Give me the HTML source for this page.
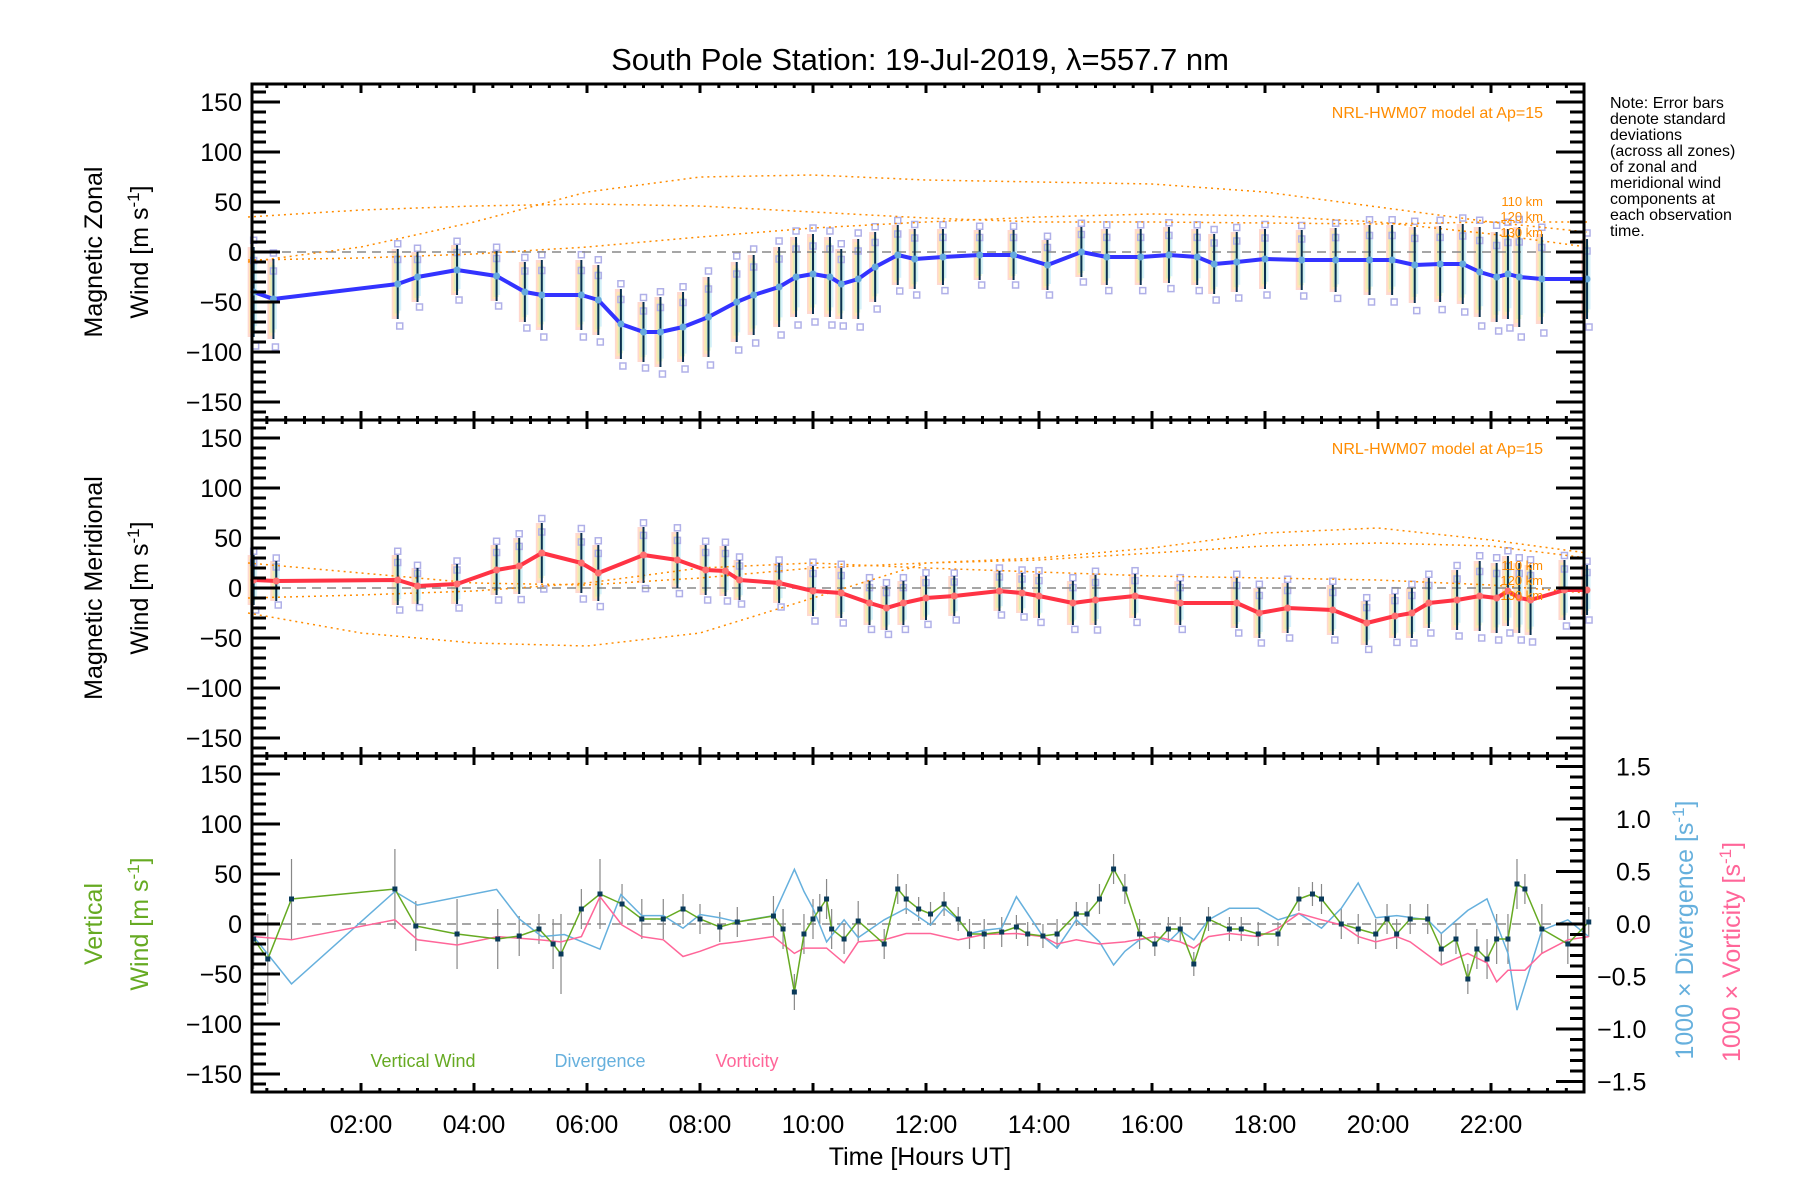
<!DOCTYPE html>
<html><head><meta charset="utf-8">
<style>
html,body{margin:0;padding:0;background:#fff;}
svg{display:block;font-family:"Liberation Sans",sans-serif;}
</style></head>
<body>
<svg id="chart" width="1800" height="1200" viewBox="0 0 1800 1200">
<rect width="1800" height="1200" fill="#fff"/>
<text x="920" y="70" font-size="31" text-anchor="middle">South Pole Station: 19-Jul-2019, λ=557.7 nm</text>
<g id="layer-bg"></g>
<g id="layer-data"></g>
<g id="layer-axes"></g>
<g id="layer-text" font-size="25">
<text transform="translate(102,252) rotate(-90)" text-anchor="middle" font-size="25">Magnetic Zonal</text>
<text transform="translate(148,252) rotate(-90)" text-anchor="middle" font-size="25">Wind [m s<tspan dy="-9" font-size="17">-1</tspan><tspan dy="9">]</tspan></text>
<text transform="translate(102,588) rotate(-90)" text-anchor="middle" font-size="25">Magnetic Meridional</text>
<text transform="translate(148,588) rotate(-90)" text-anchor="middle" font-size="25">Wind [m s<tspan dy="-9" font-size="17">-1</tspan><tspan dy="9">]</tspan></text>
<text transform="translate(102,924) rotate(-90)" text-anchor="middle" font-size="25" fill="#66aa22">Vertical</text>
<text transform="translate(148,924) rotate(-90)" text-anchor="middle" font-size="25" fill="#66aa22">Wind [m s<tspan dy="-9" font-size="17">-1</tspan><tspan dy="9">]</tspan></text>
<text transform="translate(1693,930) rotate(-90)" text-anchor="middle" font-size="25" fill="#66b0dd">1000 × Divergence [s<tspan dy="-9" font-size="17">-1</tspan><tspan dy="9">]</tspan></text>
<text transform="translate(1740,952) rotate(-90)" text-anchor="middle" font-size="25" fill="#ff6699">1000 × Vorticity [s<tspan dy="-9" font-size="17">-1</tspan><tspan dy="9">]</tspan></text>
<text x="920" y="1165" text-anchor="middle" font-size="25">Time [Hours UT]</text>
<text x="1543" y="118" text-anchor="end" font-size="16" fill="#ff8c00">NRL-HWM07 model at Ap=15</text>
<text x="1543" y="454" text-anchor="end" font-size="16" fill="#ff8c00">NRL-HWM07 model at Ap=15</text>
<text x="1543" y="206" text-anchor="end" font-size="13" fill="#ff8c00">110 km</text>
<text x="1543" y="221" text-anchor="end" font-size="13" fill="#ff8c00">120 km</text>
<text x="1543" y="237" text-anchor="end" font-size="13" fill="#ff8c00">130 km</text>
<text x="1543" y="570" text-anchor="end" font-size="13" fill="#ff8c00">110 km</text>
<text x="1543" y="585" text-anchor="end" font-size="13" fill="#ff8c00">120 km</text>
<text x="1543" y="600" text-anchor="end" font-size="13" fill="#ff8c00">130 km</text>
<g font-size="16">
<text x="1610" y="108">Note: Error bars</text>
<text x="1610" y="124">denote standard</text>
<text x="1610" y="140">deviations</text>
<text x="1610" y="156">(across all zones)</text>
<text x="1610" y="172">of zonal and</text>
<text x="1610" y="188">meridional wind</text>
<text x="1610" y="204">components at</text>
<text x="1610" y="220">each observation</text>
<text x="1610" y="236">time.</text>
</g>
<text x="423" y="1067" text-anchor="middle" font-size="18" fill="#66aa22">Vertical Wind</text>
<text x="600" y="1067" text-anchor="middle" font-size="18" fill="#66b0dd">Divergence</text>
<text x="747" y="1067" text-anchor="middle" font-size="18" fill="#ff6699">Vorticity</text>
</g>
</svg>
<script>
// ---------- data ----------
const zonalTimes = [0.1,0.45,2.65,3.0,3.7,4.4,4.9,5.2,5.9,6.2,6.6,7.0,7.3,7.7,8.15,8.65,8.95,9.4,9.7,10.0,10.3,10.5,10.8,11.1,11.5,11.8,12.3,12.95,13.55,14.15,14.75,15.2,15.8,16.3,16.8,17.1,17.5,18.0,18.65,19.25,19.85,20.25,20.65,21.1,21.5,21.8,22.1,22.3,22.5,22.9,23.7];
const zonalValues = [-40,-47,-32,-25,-18,-24,-40,-43,-43,-48,-72,-80,-80,-75,-65,-50,-43,-35,-25,-22,-25,-32,-27,-15,-3,-7,-5,-3,-3,-13,0,-5,-5,-3,-5,-12,-10,-7,-8,-8,-8,-8,-13,-12,-12,-20,-25,-22,-25,-27,-27];
const zonalStd = [45,40,35,25,25,25,30,35,35,35,35,30,35,35,40,40,40,40,40,40,40,35,40,35,30,30,28,25,25,25,25,28,28,28,28,30,30,30,30,32,35,35,38,38,40,45,45,45,50,45,40];
const merTimes = [0.1,0.5,2.65,3.0,3.7,4.4,4.8,5.2,5.9,6.2,7.0,7.6,8.1,8.45,8.7,9.4,10.0,10.5,11.0,11.3,11.6,12.0,12.5,13.3,13.7,14.0,14.6,15.0,15.7,16.5,17.5,17.9,18.4,19.2,19.8,20.3,20.6,20.9,21.4,21.8,22.1,22.3,22.5,22.7,23.3,23.7];
const merValues = [8,7,8,2,4,18,22,35,25,15,33,28,18,17,8,5,-3,-5,-15,-20,-15,-10,-8,-3,-5,-8,-15,-12,-8,-15,-15,-25,-20,-22,-35,-28,-25,-15,-12,-8,-10,-3,-10,-12,-2,-2];
const merStd = [25,20,25,18,20,25,28,30,30,28,28,28,25,25,20,20,25,25,22,22,22,22,20,20,20,22,22,25,22,22,25,25,25,25,22,22,25,25,30,35,35,35,35,35,30,25];
const vertTimes = [0.1,0.35,0.77,2.6,2.97,3.7,4.42,4.8,5.15,5.4,5.54,5.9,6.23,6.62,6.97,7.35,7.7,8.0,8.35,8.66,9.3,9.47,9.67,9.84,10.0,10.12,10.24,10.33,10.55,10.8,11.26,11.5,11.65,11.87,12.08,12.32,12.57,12.77,13.03,13.34,13.6,13.8,14.07,14.32,14.66,14.85,15.07,15.32,15.52,15.78,16.05,16.29,16.5,16.74,17.0,17.37,17.58,17.88,18.23,18.6,18.84,19.0,19.35,19.65,19.96,20.16,20.33,20.57,20.88,21.12,21.38,21.59,21.75,21.93,22.1,22.3,22.46,22.6,22.9,23.36,23.73];
const vertValues = [-15,-35,25,35,-2,-10,-15,-12,-5,-20,-30,15,30,20,5,5,15,5,-3,2,8,-5,-68,-10,5,15,25,-5,-15,3,-20,35,25,15,10,20,5,-10,-10,-8,-3,-10,-12,-10,10,10,25,55,35,-10,-20,-5,-5,-40,5,-5,-5,-10,-10,25,30,25,0,-5,-10,5,-10,5,5,-25,-15,-55,-25,-35,-15,-15,40,35,-5,-20,2];
const vertStd = [30,45,40,40,25,35,30,20,15,25,40,20,35,20,20,20,15,15,15,15,20,20,18,20,20,15,20,20,15,20,15,15,15,12,12,12,12,15,15,15,12,12,12,15,12,12,15,15,15,15,12,12,12,12,12,12,12,12,12,12,12,15,15,15,15,15,15,15,15,15,15,15,20,20,25,25,25,15,25,20,15];
const divTimes = [0.1,0.77,2.6,3.0,4.4,4.8,5.2,5.6,6.23,6.6,6.97,7.35,7.7,8.0,8.35,8.66,9.3,9.67,9.84,10.0,10.24,10.55,10.8,11.26,11.65,12.08,12.32,12.57,12.77,13.03,13.34,13.6,14.07,14.32,14.66,15.07,15.32,15.52,15.78,16.05,16.29,16.5,16.74,17.0,17.37,17.88,18.23,18.6,19.0,19.35,19.65,19.96,20.33,20.88,21.12,21.59,21.93,22.3,22.46,22.9,23.36,23.73];
const divValues = [-0.12,-0.57,0.31,0.18,0.33,0.05,-0.12,-0.1,-0.24,0.28,0.08,0.08,-0.04,0.09,0.06,0.02,0.08,0.52,0.31,0.15,-0.17,0.04,-0.13,0.04,0.15,-0.01,0.15,0.04,-0.09,-0.06,-0.04,0.26,-0.12,-0.23,0.04,-0.17,-0.39,-0.26,-0.15,-0.12,-0.17,-0.06,-0.15,0.04,0.15,0.15,0.04,0.1,-0.04,0.15,0.39,0.06,0.08,0.04,-0.09,0.13,0.24,-0.28,-0.82,-0.06,0.04,-0.12];
const vortTimes = [0.1,0.77,2.6,3.0,3.7,4.42,5.15,5.54,5.9,6.23,6.62,6.97,7.35,7.7,8.0,8.35,8.66,9.3,9.67,9.84,10.24,10.55,10.8,11.26,11.65,12.08,12.57,13.03,13.6,14.07,14.32,14.66,15.07,15.52,16.05,16.5,16.74,17.0,17.37,17.88,18.23,18.6,19.0,19.35,19.65,19.96,20.33,20.57,21.12,21.38,21.59,21.93,22.1,22.3,22.6,22.9,23.36,23.73];
const vortValues = [-0.12,-0.15,0.04,-0.15,-0.2,-0.12,-0.15,-0.17,-0.12,0.26,-0.01,-0.12,-0.15,-0.31,-0.26,-0.19,-0.17,-0.12,-0.28,-0.23,-0.23,-0.37,-0.17,-0.15,-0.09,-0.09,-0.15,-0.1,-0.09,-0.12,-0.19,-0.15,-0.19,-0.17,-0.12,-0.17,-0.23,-0.12,-0.09,-0.12,-0.04,0.1,0.04,-0.01,-0.12,-0.17,-0.12,-0.17,-0.39,-0.33,-0.28,-0.37,-0.55,-0.44,-0.44,-0.28,-0.15,-0.12];
const modelTimes = [0,2,4,6,8,10,12,14,16,18,20,22,23.7];
const zonalModel110 = [35,42,46,48,46,40,34,30,30,29,28,30,30];
const zonalModel120 = [-10,5,30,60,75,77,72,70,68,60,45,30,20];
const zonalModel130 = [-8,-6,-2,5,15,24,30,35,38,36,30,18,5];
const merModel110 = [25,15,5,3,10,20,25,30,40,55,60,48,35];
const merModel120 = [-25,-45,-55,-58,-45,-10,25,28,35,42,45,42,30];
const merModel130 = [-10,-7,-3,5,20,25,20,16,12,10,8,3,-5];
const yTicks = [-150,-100,-50,0,50,100,150];
const rTicks = [-1.5,-1.0,-0.5,0.0,0.5,1.0,1.5];
const xTickLabels = ["02:00","04:00","06:00","08:00","10:00","12:00","14:00","16:00","18:00","20:00","22:00"];
const xTickHours = [2,4,6,8,10,12,14,16,18,20,22];

// ---------- scales ----------
const L=252,R=1584;
const panelTop=[84,420,756];
const PH=336;
function X(h){return 248+h*56.5;}
function Y(p,v){return panelTop[p]+PH/2 - v*(PH/2)/168;}
function YR(v){return 924 - v*105;}
const NS="http://www.w3.org/2000/svg";
function el(tag,attrs,parent){const e=document.createElementNS(NS,tag);for(const k in attrs)e.setAttribute(k,attrs[k]);parent.appendChild(e);return e;}
const bg=document.getElementById('layer-bg');
const dl=document.getElementById('layer-data');
const ax=document.getElementById('layer-axes');

// zero dashed lines
for(let p=0;p<3;p++){
  const z=el('line',{x1:L,x2:R,y1:Y(p,0),y2:Y(p,0),stroke:'#888','stroke-width':1.5,'stroke-dasharray':'9,6'},dl);
  
  
}

// model curves
function polyPts(ts,vs,f){return ts.map((t,i)=>X(t).toFixed(1)+','+f(vs[i]).toFixed(1)).join(' ');}
[[zonalModel110,0,'model-zonal-110'],[zonalModel120,0,'model-zonal-120'],[zonalModel130,0,'model-zonal-130'],[merModel110,1,'model-mer-110'],[merModel120,1,'model-mer-120'],[merModel130,1,'model-mer-130']].forEach(([vals,p,nm])=>{
  const pl=el('polyline',{points:polyPts(modelTimes,vals,v=>Y(p,v)),fill:'none',stroke:'#ff8c00','stroke-width':1.5,'stroke-dasharray':'2,4'},dl);
  
  
});

// pastel bars, scatter squares, error bars
const pastel=['#ffb8a8','#fff0a0','#c8f0b0','#b8e8f8'];
function obsPanel(p,ts,vs,sd,pre,lineColor){
  ts.forEach((t,i)=>{
    const x=X(t),v=vs[i],s=sd[i];
    for(let k=0;k<4;k++){
      const r=el('rect',{x:x-6+k*1.5,y:Y(p,v+s*(1-k*0.08)),width:5,height:Y(p,v-s*(1-k*0.08))-Y(p,v+s*(1-k*0.08)),fill:pastel[k],opacity:0.55},bg);
      
      
    }
    [1.15,-1.2,0.7].forEach((m,j)=>{
      const q=el('rect',{x:x-3+j%2*2,y:Y(p,v+s*m)-3,width:6,height:6,fill:'none',stroke:'#b0b0e8','stroke-width':1.5},bg);
      
      
    });
    const eb=el('line',{x1:x,x2:x,y1:Y(p,v+s),y2:Y(p,v-s),stroke:'#0a3050','stroke-width':2},dl);
    
    
  });
  const ln=el('polyline',{points:polyPts(ts,vs,v=>Y(p,v)),fill:'none',stroke:lineColor,'stroke-width':4,'stroke-linejoin':'round'},dl);
  
  
  ts.forEach((t,i)=>{
    const c=el('circle',{cx:X(t),cy:Y(p,vs[i]),r:3.5,fill:p==0?'#66aadd':'#ff7070'},dl);
    
    
  });
}
obsPanel(0,zonalTimes,zonalValues,zonalStd,'zonal','#3333ff');
obsPanel(1,merTimes,merValues,merStd,'meridional','#ff3344');

// vertical panel
vertTimes.forEach((t,i)=>{
  const eb=el('line',{x1:X(t),x2:X(t),y1:Y(2,vertValues[i]+vertStd[i]),y2:Y(2,vertValues[i]-vertStd[i]),stroke:'#888','stroke-width':1.2},dl);
  
  
});
const divL=el('polyline',{points:polyPts(divTimes,divValues,YR),fill:'none',stroke:'#66b0dd','stroke-width':1.5},dl);


const vorL=el('polyline',{points:polyPts(vortTimes,vortValues,YR),fill:'none',stroke:'#ff6699','stroke-width':1.5},dl);


const verL=el('polyline',{points:polyPts(vertTimes,vertValues,v=>Y(2,v)),fill:'none',stroke:'#66aa22','stroke-width':1.5},dl);


vertTimes.forEach((t,i)=>{
  const r=el('rect',{x:X(t)-2.5,y:Y(2,vertValues[i])-2.5,width:5,height:5,fill:'#0a3a5a'},dl);
  
  
});

// axes
for(let p=0;p<3;p++){
  const t=panelTop[p],b=t+PH;
  const fr=el('rect',{x:L,y:t,width:R-L,height:PH,fill:'none',stroke:'#000','stroke-width':3},ax);
  
  
  for(let m=0;m<=72;m++){
    const h=m/3;const x=X(h);if(x<L||x>R)continue;
    const len=(m%6==0)?9:4;
    el('line',{x1:x,x2:x,y1:b,y2:b-len,stroke:'#000','stroke-width':3},ax);
    el('line',{x1:x,x2:x,y1:t,y2:t+len,stroke:'#000','stroke-width':3},ax);
  }
  for(let v=-160;v<=160;v+=10){
    const y=Y(p,v);const maj=v%50==0;
    el('line',{x1:L,x2:L+(maj?28:14),y1:y,y2:y,stroke:'#000','stroke-width':3},ax);
    if(p<2) el('line',{x1:R,x2:R-(maj?28:14),y1:y,y2:y,stroke:'#000','stroke-width':3},ax);
  }
  yTicks.forEach(v=>{
    const tx=el('text',{x:L-10,y:Y(p,v)+9,'text-anchor':'end','font-size':25},ax);
    tx.textContent=(v<0?'\u2212'+(-v):v);
    
    
  });
}
for(let v=-1.6;v<=1.61;v+=0.1){
  const y=YR(v);const maj=Math.abs(Math.round(v*10))%5==0;
  el('line',{x1:R,x2:R-(maj?28:14),y1:y,y2:y,stroke:'#000','stroke-width':3},ax);
}
rTicks.forEach(v=>{
  const tx=el('text',{x:v<0?1597:1616,y:YR(v)+9,'font-size':25},ax);
  tx.textContent=(v<0?'\u2212':'')+Math.abs(v).toFixed(1);
  
  
});
xTickHours.forEach((h,i)=>{
  const tx=el('text',{x:X(h),y:1133,'text-anchor':'middle','font-size':25},ax);
  tx.textContent=xTickLabels[i];
  
  
});
</script>
</body></html>
